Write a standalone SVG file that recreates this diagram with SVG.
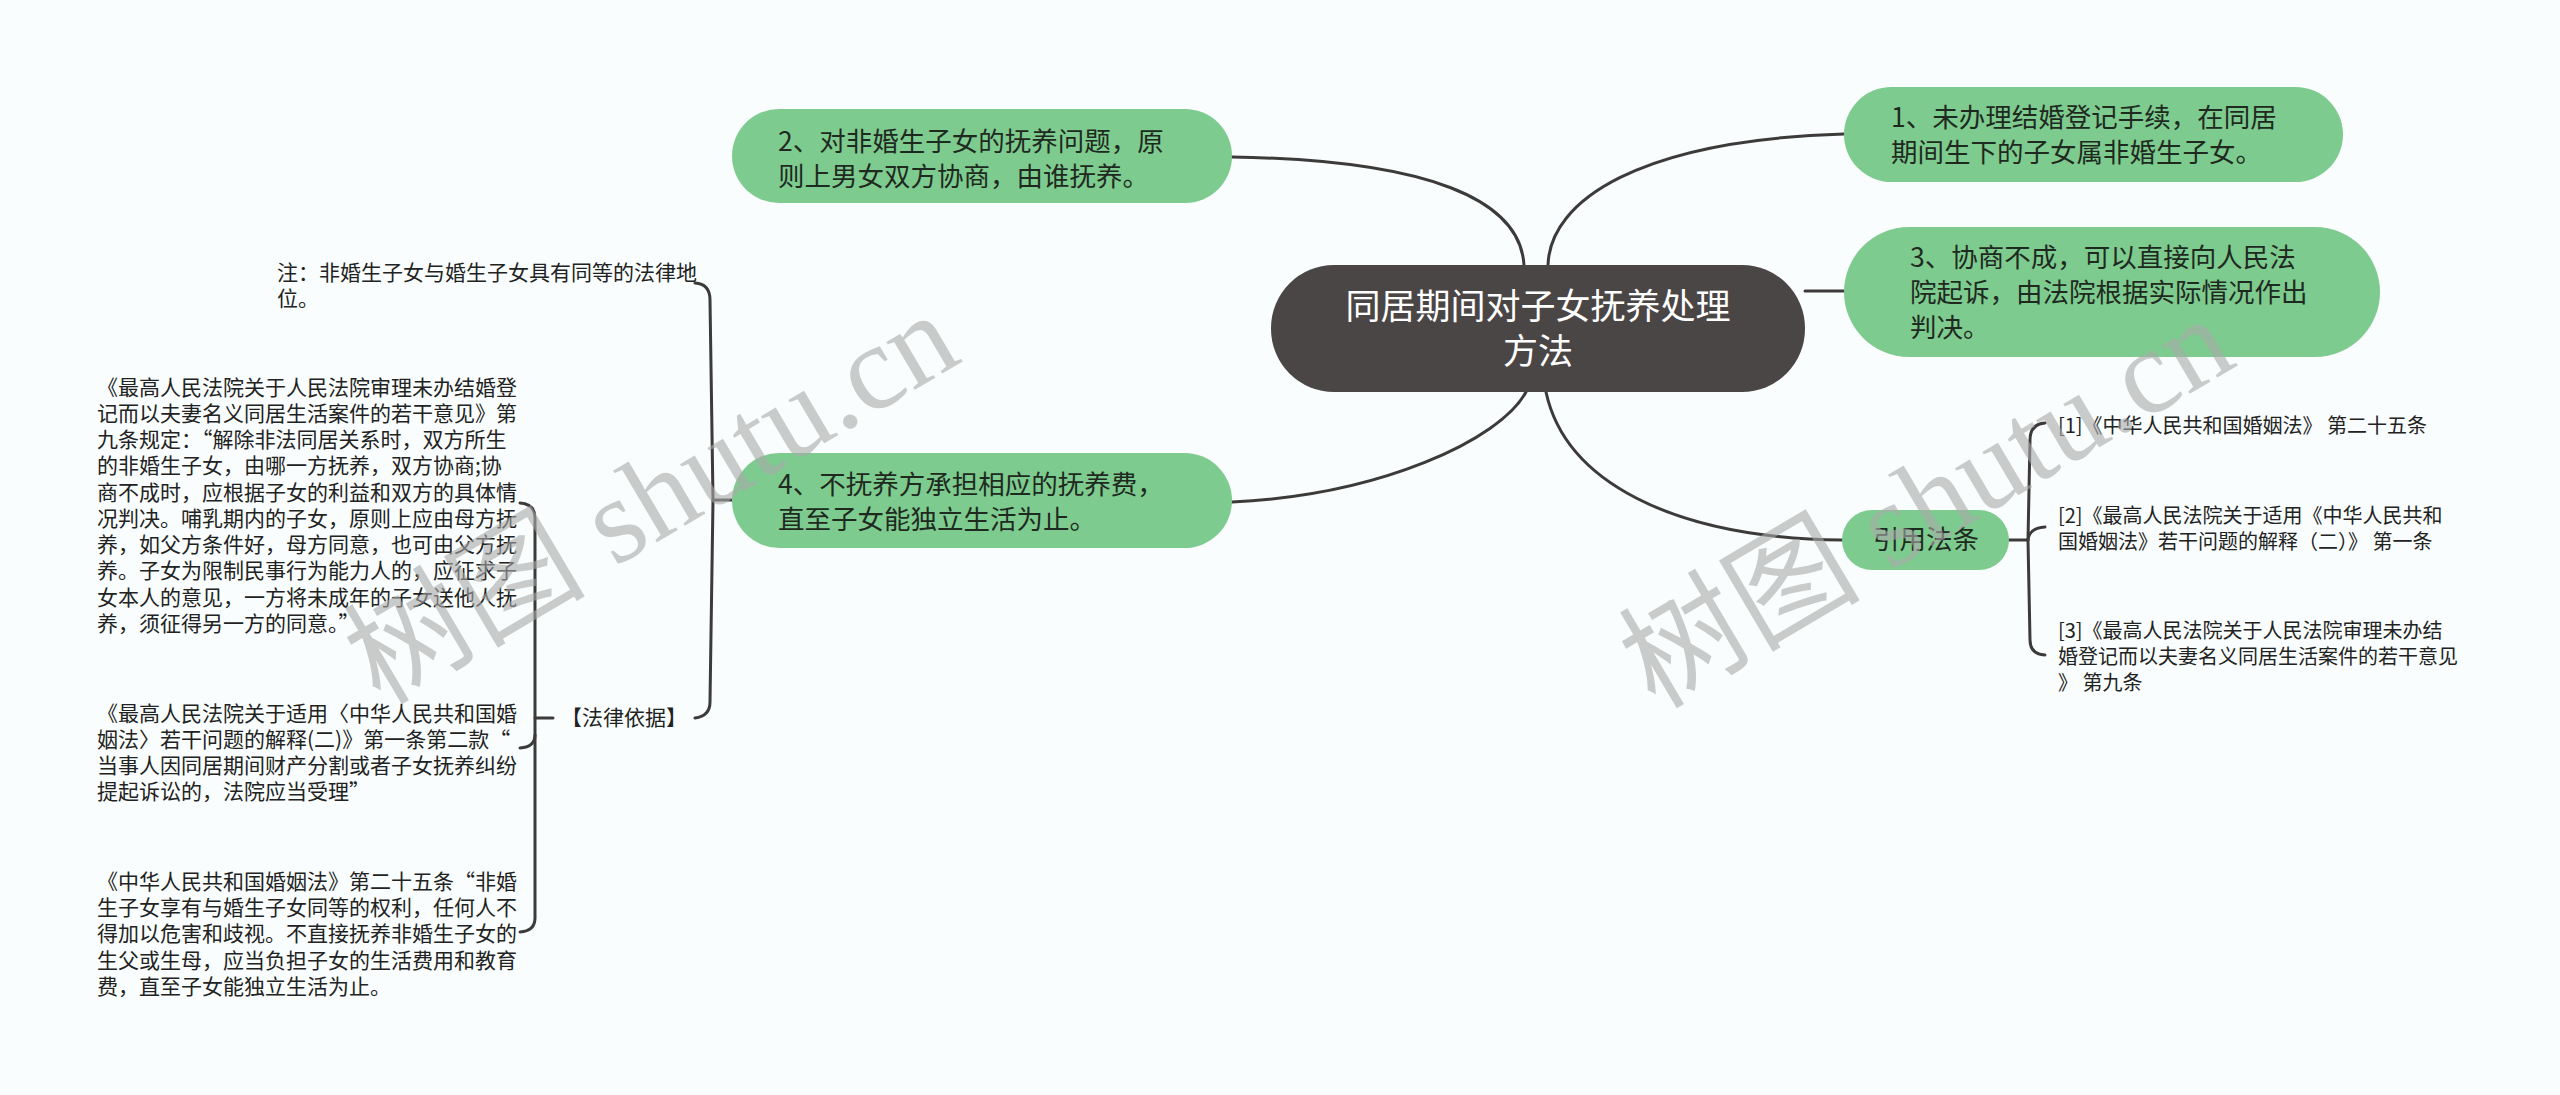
<svg xmlns="http://www.w3.org/2000/svg" width="2560" height="1095" viewBox="0 0 2560 1095">
<style>
text{font-family:"Noto Sans CJK SC","Noto Sans",sans-serif}
.bg{fill:#f9fdfd}
.root{fill:#4b4646}
.green{fill:#7ecb8f}
.rt{fill:#ffffff;font-size:35px}
.gt{fill:#1e2a20;font-size:26.5px}
.lt{fill:#222222;font-size:21px}
.st{fill:#222222;font-size:20px}
.ln{fill:none;stroke:#3d3a3a;stroke-width:3;stroke-linecap:round}
.wm{font-family:"Liberation Serif","Noto Sans CJK SC",serif;font-size:121px;fill:#aaaaaa;opacity:0.6}
</style>
<rect class="bg" x="0" y="0" width="2560" height="1095"/>
<g id="connectors">
<path class="ln" d="M1548 265 C1550 200 1640 140 1844 134"/>
<path class="ln" d="M1524 265 C1520 200 1430 160 1232 157"/>
<path class="ln" d="M1805 291 L1844 291"/>
<path class="ln" d="M1526 392 C1500 440 1380 495 1232 502"/>
<path class="ln" d="M1546 392 C1565 480 1670 538 1842 540"/>
<path class="ln" d="M2009 540 L2028 540"/>
<path class="ln" d="M2045 423 Q2030 424 2030 440 L2028 540 L2030 640 Q2030 654 2045 655"/>
<path class="ln" d="M2028 540 Q2029 528 2045 527"/>
<path class="ln" d="M732 500 L713 500"/>
<path class="ln" d="M695 283 Q710 284 710 300 L713 500 L710 702 Q710 716 695 718"/>
<path class="ln" d="M553 718 L535 718"/>
<path class="ln" d="M520 503 Q535 504 535 518 L535 918 Q535 931 520 932"/>
<path class="ln" d="M535 735 Q535 747 520 748"/>
</g>
<g id="root">
<rect class="root" x="1271" y="265" width="534" height="127" rx="63"/>
<text class="rt" x="1538" y="319" text-anchor="middle">同居期间对子女抚养处理</text>
<text class="rt" x="1538" y="364" text-anchor="middle">方法</text>
</g>
<g id="n1">
<rect class="green" x="1844" y="87" width="499" height="95" rx="47.5"/>
<text class="gt" x="1891" y="127">1、未办理结婚登记手续，在同居</text>
<text class="gt" x="1891" y="162">期间生下的子女属非婚生子女。</text>
</g>
<g id="n3">
<rect class="green" x="1844" y="227" width="536" height="130" rx="65"/>
<text class="gt" x="1910" y="267">3、协商不成，可以直接向人民法</text>
<text class="gt" x="1910" y="302">院起诉，由法院根据实际情况作出</text>
<text class="gt" x="1910" y="337">判决。</text>
</g>
<g id="n2">
<rect class="green" x="732" y="109" width="500" height="94" rx="47"/>
<text class="gt" x="778" y="151">2、对非婚生子女的抚养问题，原</text>
<text class="gt" x="778" y="186">则上男女双方协商，由谁抚养。</text>
</g>
<g id="n4">
<rect class="green" x="732" y="453" width="500" height="95" rx="47.5"/>
<text class="gt" x="778" y="494">4、不抚养方承担相应的抚养费，</text>
<text class="gt" x="778" y="529">直至子女能独立生活为止。</text>
</g>
<g id="n5">
<rect class="green" x="1842" y="510" width="167" height="60" rx="30"/>
<text class="gt" x="1926" y="549" text-anchor="middle">引用法条</text>
</g>
<g id="r1">
<text class="st" x="2058" y="433">[1]《中华人民共和国婚姻法》 第二十五条</text>
</g>
<g id="r2">
<text class="st" x="2058" y="523">[2]《最高人民法院关于适用《中华人民共和</text>
<text class="st" x="2058" y="549">国婚姻法》若干问题的解释（二）》 第一条</text>
</g>
<g id="r3">
<text class="st" x="2058" y="638">[3]《最高人民法院关于人民法院审理未办结</text>
<text class="st" x="2058" y="664">婚登记而以夫妻名义同居生活案件的若干意见</text>
<text class="st" x="2058" y="690">》 第九条</text>
</g>
<g id="note">
<text class="lt" x="277" y="280">注：非婚生子女与婚生子女具有同等的法律地</text>
<text class="lt" x="277" y="306">位。</text>
</g>
<g id="basis">
<text class="lt" x="561" y="725">【法律依据】</text>
</g>
<g id="b1">
<text class="lt" x="97" y="395">《最高人民法院关于人民法院审理未办结婚登</text>
<text class="lt" x="97" y="421">记而以夫妻名义同居生活案件的若干意见》第</text>
<text class="lt" x="97" y="447">九条规定：“解除非法同居关系时，双方所生</text>
<text class="lt" x="97" y="473">的非婚生子女，由哪一方抚养，双方协商;协</text>
<text class="lt" x="97" y="500">商不成时，应根据子女的利益和双方的具体情</text>
<text class="lt" x="97" y="526">况判决。哺乳期内的子女，原则上应由母方抚</text>
<text class="lt" x="97" y="552">养，如父方条件好，母方同意，也可由父方抚</text>
<text class="lt" x="97" y="578">养。子女为限制民事行为能力人的，应征求子</text>
<text class="lt" x="97" y="605">女本人的意见，一方将未成年的子女送他人抚</text>
<text class="lt" x="97" y="631">养，须征得另一方的同意。”</text>
</g>
<g id="b2">
<text class="lt" x="97" y="721">《最高人民法院关于适用〈中华人民共和国婚</text>
<text class="lt" x="97" y="747">姻法〉若干问题的解释(二)》第一条第二款“</text>
<text class="lt" x="97" y="773">当事人因同居期间财产分割或者子女抚养纠纷</text>
<text class="lt" x="97" y="799">提起诉讼的，法院应当受理”</text>
</g>
<g id="b3">
<text class="lt" x="97" y="889">《中华人民共和国婚姻法》第二十五条“非婚</text>
<text class="lt" x="97" y="915">生子女享有与婚生子女同等的权利，任何人不</text>
<text class="lt" x="97" y="941">得加以危害和歧视。不直接抚养非婚生子女的</text>
<text class="lt" x="97" y="968">生父或生母，应当负担子女的生活费用和教育</text>
<text class="lt" x="97" y="994">费，直至子女能独立生活为止。</text>
</g>
<g id="watermarks">
<text class="wm" transform="translate(380 706) rotate(-30.6)">树图 shutu.cn</text>
<text class="wm" transform="translate(1655 710) rotate(-30.6)">树图 shutu.cn</text>
</g>
</svg>
